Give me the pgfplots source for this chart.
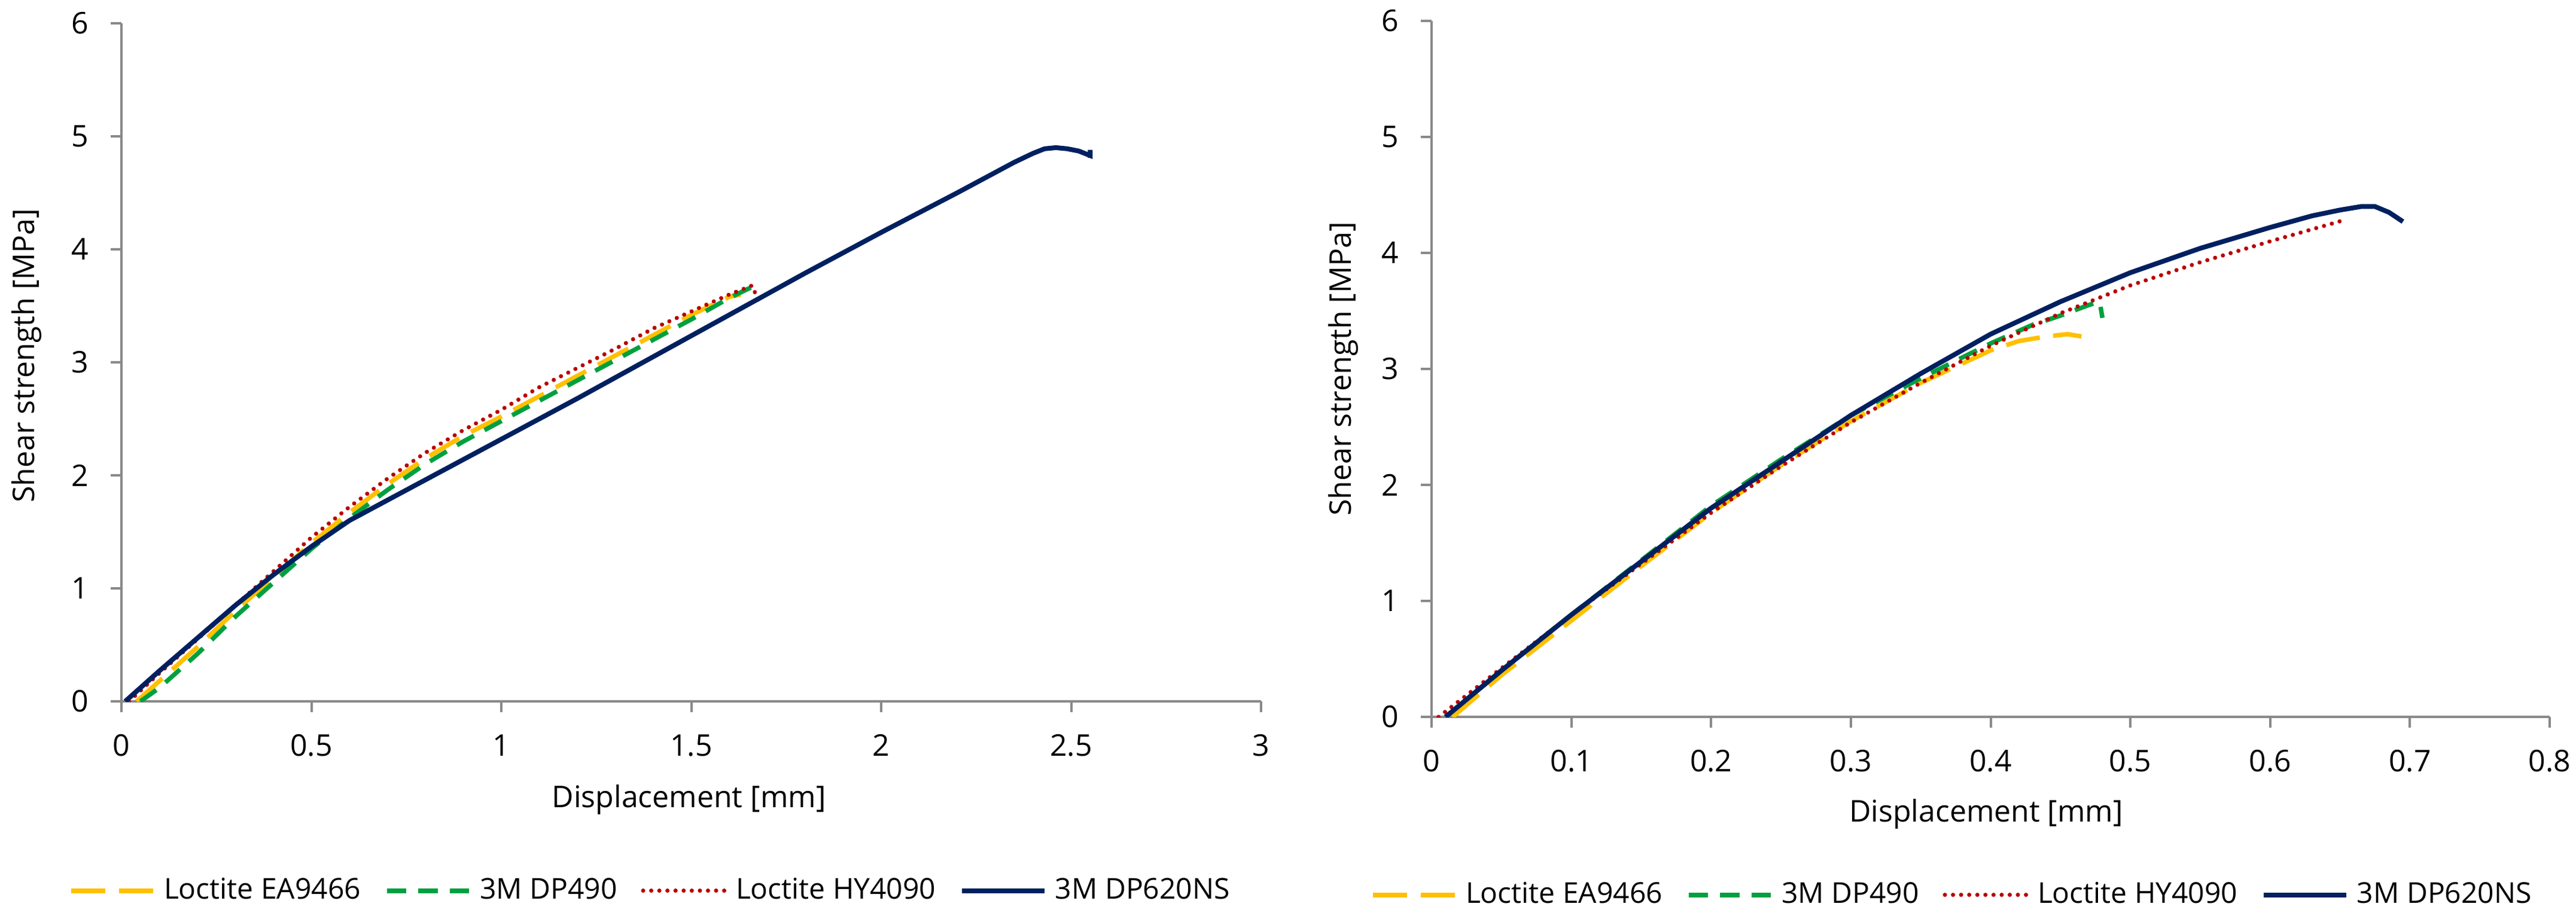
\documentclass[border=0pt]{standalone}
\usepackage{fontspec}
\setmainfont{Open Sans}
\usepackage{pgfplots}
\pgfplotsset{compat=1.18}

\definecolor{cYel}{HTML}{FFC000}
\definecolor{cGrn}{HTML}{00A040}
\definecolor{cRed}{HTML}{B80000}
\definecolor{cBlu}{HTML}{002060}
\definecolor{axgray}{HTML}{898989}

\pgfplotsset{
  shear/.style={
    scale only axis,
    axis lines=left,
    axis line style={-, axgray, line width=0.8pt},
    tick style={axgray, line width=0.8pt},
    tick align=outside,
    major tick length=3.6pt,
    ymin=0, ymax=6, ytick={0,1,...,6},
    xmin=0,
    font=\fontsize{10}{12}\selectfont,
    tick label style={font=\fontsize{10}{12}\selectfont},
    xticklabel style={yshift=-4pt},
    yticklabel style={xshift=-3.8pt},
    /pgf/number format/assume math mode=true,
    xlabel={Displacement [mm]},
    ylabel={Shear strength [MPa]},
    legend columns=-1,
    legend style={draw=none, fill=none, font=\fontsize{9.6}{11}\selectfont,
      anchor=west, inner sep=0pt, nodes={inner sep=0pt},
      /tikz/every odd column/.append style={column sep=2.8pt},
      /tikz/every even column/.append style={column sep=8pt}},
    legend image code/.code={\draw[#1] (0pt,0pt) -- (27.5pt,0pt);},
  },
  ea/.style={cYel, line width=1.5pt, dash pattern=on 11.5pt off 4.5pt},
  dp490/.style={cGrn, line width=1.5pt, dash pattern=on 6.5pt off 4pt},
  hy/.style={cRed, line width=1.4pt, line cap=round, dash pattern=on 0.01pt off 2.7pt},
  dp620/.style={cBlu, line width=1.6pt},
}

\begin{document}
\begin{tikzpicture}
\path[use as bounding box] (0,0) rectangle (861.2pt,306.2pt);

% left panel
\begin{axis}[shear,
  at={(40.6pt,71.6pt)}, anchor=south west,
  width=381pt, height=226.8pt,
  xmax=3, xtick={0,0.5,...,3},
  xlabel style={at={(rel axis cs:0.498,-0.1455)}, anchor=center},
  ylabel style={at={(rel axis cs:-0.083,0.51)}, anchor=center},
  legend style={at={(rel axis cs:-0.0467,-0.2795)}},
]
\addplot[ea] coordinates {
(0.04,0) (0.1,0.18) (0.2,0.48) (0.3,0.8) (0.4,1.1) (0.5,1.4) (0.6,1.67)
(0.7,1.92) (0.8,2.15) (0.9,2.35) (1.0,2.52) (1.1,2.7) (1.2,2.88) (1.3,3.06)
(1.4,3.24) (1.5,3.42) (1.6,3.58) (1.63,3.6)
};
\addlegendentry{Loctite EA9466}
\addplot[dp490] coordinates {
(0.05,0) (0.1,0.12) (0.2,0.42) (0.3,0.75) (0.4,1.05) (0.5,1.35) (0.6,1.62)
(0.7,1.87) (0.8,2.1) (0.9,2.3) (1.0,2.48) (1.1,2.66) (1.2,2.84) (1.3,3.02)
(1.4,3.2) (1.5,3.38) (1.6,3.57) (1.68,3.7)
};
\addlegendentry{3M DP490}
\addplot[hy] coordinates {
(0.02,0) (0.1,0.25) (0.2,0.55) (0.3,0.85) (0.4,1.15) (0.5,1.45) (0.6,1.72)
(0.7,1.97) (0.8,2.2) (0.9,2.4) (1.0,2.58) (1.1,2.78) (1.2,2.95) (1.3,3.12)
(1.4,3.3) (1.5,3.45) (1.6,3.6) (1.66,3.68) (1.68,3.52)
};
\addlegendentry{Loctite HY4090}
\addplot[dp620] coordinates {
(0.01,0) (0.1,0.27) (0.2,0.56) (0.3,0.85) (0.4,1.12) (0.5,1.37) (0.6,1.6)
(0.7,1.78) (0.8,1.96) (1.0,2.32) (1.2,2.68) (1.4,3.05) (1.6,3.42) (1.8,3.79)
(2.0,4.15) (2.2,4.5) (2.3,4.68) (2.35,4.77) (2.4,4.85) (2.43,4.89) (2.46,4.9)
(2.49,4.89) (2.52,4.87) (2.55,4.83) (2.55,4.88) (2.55,4.81)
};
\addlegendentry{3M DP620NS}
\end{axis}

% right panel
\begin{axis}[shear,
  at={(478.6pt,66.4pt)}, anchor=south west,
  width=373.8pt, height=232.8pt,
  xmax=0.8, xtick={0,0.1,...,0.8},
  xticklabel style={/pgf/number format/fixed},
  xlabel style={at={(rel axis cs:0.496,-0.14)}, anchor=center},
  ylabel style={at={(rel axis cs:-0.079,0.5)}, anchor=center},
  legend style={at={(rel axis cs:-0.0551,-0.256)}},
]
\addplot[ea] coordinates {
(0.015,0) (0.05,0.36) (0.1,0.83) (0.15,1.3) (0.2,1.76) (0.25,2.17) (0.3,2.55)
(0.35,2.88) (0.4,3.16) (0.42,3.24) (0.44,3.28) (0.455,3.3) (0.465,3.28)
};
\addlegendentry{Loctite EA9466}
\addplot[dp490] coordinates {
(0.01,0) (0.05,0.4) (0.1,0.88) (0.15,1.35) (0.2,1.82) (0.25,2.22) (0.3,2.6)
(0.35,2.92) (0.4,3.22) (0.43,3.38) (0.45,3.46) (0.47,3.55) (0.478,3.58) (0.48,3.44)
};
\addlegendentry{3M DP490}
\addplot[hy] coordinates {
(0.005,0) (0.05,0.42) (0.1,0.88) (0.15,1.32) (0.2,1.76) (0.25,2.16) (0.3,2.54)
(0.35,2.88) (0.4,3.2) (0.45,3.48) (0.5,3.72) (0.55,3.92) (0.6,4.1) (0.652,4.28)
};
\addlegendentry{Loctite HY4090}
\addplot[dp620] coordinates {
(0.01,0) (0.05,0.4) (0.1,0.88) (0.15,1.34) (0.2,1.8) (0.25,2.2) (0.3,2.6)
(0.35,2.96) (0.4,3.3) (0.45,3.58) (0.5,3.83) (0.55,4.04) (0.6,4.22) (0.63,4.32)
(0.65,4.37) (0.665,4.4) (0.675,4.4) (0.685,4.35) (0.695,4.27)
};
\addlegendentry{3M DP620NS}
\end{axis}
\end{tikzpicture}
\end{document}
